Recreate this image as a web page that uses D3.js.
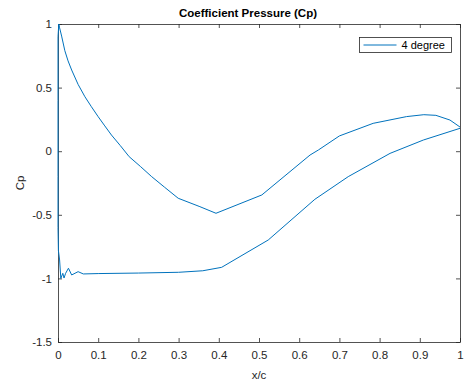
<!DOCTYPE html>
<html>
<head>
<meta charset="utf-8">
<script src="https://cdn.jsdelivr.net/npm/d3@7"></script>
<style>
  body { margin: 0; background: #fff; }
  text { font-family: "Liberation Sans", Arial, sans-serif; }
</style>
</head>
<body>
<div id="chart"></div>
<script>
// x/c positions and Cp values (one closed loop, TE -> LE -> TE)
const xc = [
  1.0, 0.975, 0.94, 0.91, 0.867, 0.784, 0.70, 0.648, 0.627, 0.507, 0.393, 0.353,
  0.299, 0.265, 0.233, 0.205, 0.177, 0.155, 0.133, 0.115, 0.10, 0.083, 0.067, 0.05,
  0.034, 0.025, 0.017, 0.009, 0.004, 0.002, 0.0,
  0.0, 0.0, 0.0, 0.001, 0.004, 0.007, 0.012, 0.015, 0.019, 0.026, 0.034, 0.05,
  0.063, 0.1, 0.2, 0.3, 0.36, 0.407, 0.523, 0.639, 0.722, 0.826, 0.909, 1.0
];
const cp = [
  0.19, 0.245, 0.282, 0.287, 0.272, 0.219, 0.12, 0.01, -0.03, -0.344, -0.488, -0.436,
  -0.37, -0.283, -0.2, -0.12, -0.043, 0.044, 0.127, 0.205, 0.271, 0.35, 0.428, 0.525,
  0.638, 0.71, 0.79, 0.905, 0.97, 1.0, 0.9,
  0.4, -0.2, -0.6, -0.78, -0.855, -1.0, -0.96, -0.997, -0.96, -0.92, -0.973, -0.947,
  -0.965, -0.962, -0.958, -0.952, -0.94, -0.913, -0.698, -0.378, -0.2, -0.017, 0.088, 0.18
];
const xTicks = [0, 0.1, 0.2, 0.3, 0.4, 0.5, 0.6, 0.7, 0.8, 0.9, 1];
const yTicks = [-1.5, -1, -0.5, 0, 0.5, 1];
const seriesName = "4 degree";

const width = 465, height = 388;
const margin = { top: 24, right: 5, bottom: 46, left: 58 };
const axisColor = "#262626";
const lineColor = "#0072BD";

const svg = d3.select("#chart").append("svg")
    .attr("width", width)
    .attr("height", height);

const x = d3.scaleLinear().domain([0, 1]).range([margin.left, width - margin.right]);
const y = d3.scaleLinear().domain([-1.5, 1]).range([height - margin.bottom, margin.top]);

const fmt = d => String(d);

// axes (ticks inward, box on)
const tickLen = 4;
const axBottom = svg.append("g").attr("transform", `translate(0,${y(-1.5)})`)
    .call(d3.axisBottom(x).tickValues(xTicks).tickFormat(fmt).tickSizeInner(-tickLen).tickSizeOuter(0).tickPadding(9));
const axTop = svg.append("g").attr("transform", `translate(0,${y(1)})`)
    .call(d3.axisTop(x).tickValues(xTicks).tickFormat("").tickSizeInner(-tickLen).tickSizeOuter(0));
const axLeft = svg.append("g").attr("transform", `translate(${x(0)},0)`)
    .call(d3.axisLeft(y).tickValues(yTicks).tickFormat(fmt).tickSizeInner(-tickLen).tickSizeOuter(0).tickPadding(6));
const axRight = svg.append("g").attr("transform", `translate(${x(1)},0)`)
    .call(d3.axisRight(y).tickValues(yTicks).tickFormat("").tickSizeInner(-tickLen).tickSizeOuter(0));

[axBottom, axTop, axLeft, axRight].forEach(g => {
    g.selectAll("path, line").attr("stroke", axisColor).attr("stroke-width", 0.8);
    g.selectAll("text").attr("fill", axisColor).style("font-size", "11.5px")
        .style("font-family", "'Liberation Sans', Arial, sans-serif");
});

// curve, drawn over the axes like MATLAB does
const points = xc.map((d, i) => [d, cp[i]]);
svg.append("path")
    .datum(points)
    .attr("fill", "none")
    .attr("stroke", lineColor)
    .attr("stroke-width", 1)
    .attr("stroke-linejoin", "round")
    .attr("d", d3.line().x(d => x(d[0])).y(d => y(d[1])));

// labels
svg.append("text")
    .attr("x", 248).attr("y", 17)
    .attr("text-anchor", "middle")
    .style("font-size", "11.5px").style("font-weight", "bold")
    .attr("fill", "#000")
    .text("Coefficient Pressure (Cp)");

svg.append("text")
    .attr("x", (x(0) + x(1)) / 2).attr("y", 379)
    .attr("text-anchor", "middle")
    .style("font-size", "11.5px")
    .attr("fill", axisColor)
    .text("x/c");

svg.append("text")
    .attr("transform", `translate(24,${(y(-1.5) + y(1)) / 2}) rotate(-90)`)
    .attr("text-anchor", "middle")
    .style("font-size", "11.5px")
    .attr("fill", axisColor)
    .text("Cp");

// legend
const legend = svg.append("g").attr("transform", "translate(359.5,37.5)");
legend.append("rect")
    .attr("width", 92).attr("height", 15)
    .attr("fill", "#fff").attr("stroke", axisColor).attr("stroke-width", 0.8);
legend.append("line")
    .attr("x1", 4).attr("x2", 37).attr("y1", 7.5).attr("y2", 7.5)
    .attr("stroke", lineColor).attr("stroke-width", 1);
legend.append("text")
    .attr("x", 42).attr("y", 11.5)
    .style("font-size", "11px")
    .attr("fill", "#000")
    .text(seriesName);
</script>
</body>
</html>
